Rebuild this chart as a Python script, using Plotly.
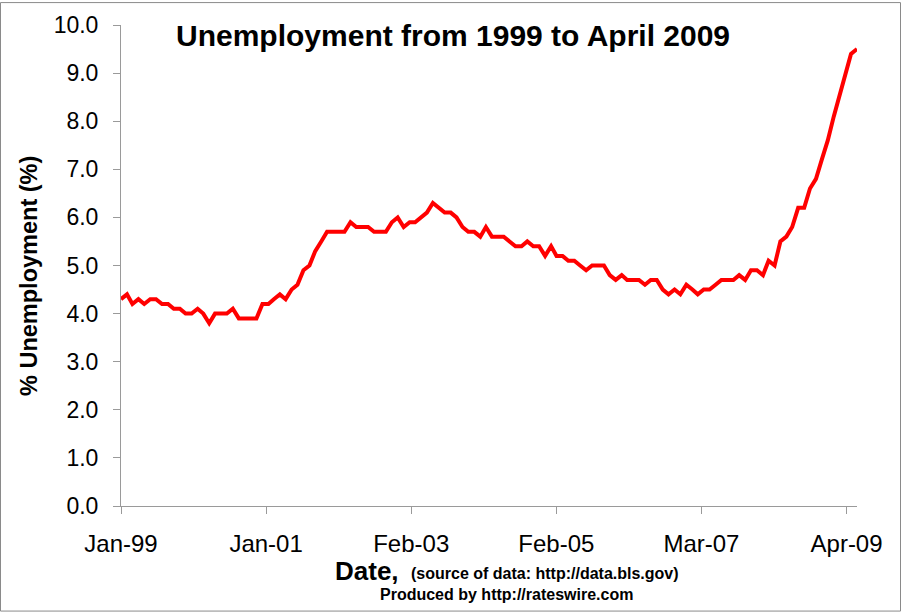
import plotly.graph_objects as go
import pandas as pd

# Monthly unemployment rate (%), Jan 1999 - Jun 2009
start_month = "1999-01-01"
rate_1999 = [4.3, 4.4, 4.2, 4.3, 4.2, 4.3, 4.3, 4.2, 4.2, 4.1, 4.1, 4.0]
rate_2000 = [4.0, 4.1, 4.0, 3.8, 4.0, 4.0, 4.0, 4.1, 3.9, 3.9, 3.9, 3.9]
rate_2001 = [4.2, 4.2, 4.3, 4.4, 4.3, 4.5, 4.6, 4.9, 5.0, 5.3, 5.5, 5.7]
rate_2002 = [5.7, 5.7, 5.7, 5.9, 5.8, 5.8, 5.8, 5.7, 5.7, 5.7, 5.9, 6.0]
rate_2003 = [5.8, 5.9, 5.9, 6.0, 6.1, 6.3, 6.2, 6.1, 6.1, 6.0, 5.8, 5.7]
rate_2004 = [5.7, 5.6, 5.8, 5.6, 5.6, 5.6, 5.5, 5.4, 5.4, 5.5, 5.4, 5.4]
rate_2005 = [5.2, 5.4, 5.2, 5.2, 5.1, 5.1, 5.0, 4.9, 5.0, 5.0, 5.0, 4.8]
rate_2006 = [4.7, 4.8, 4.7, 4.7, 4.7, 4.6, 4.7, 4.7, 4.5, 4.4, 4.5, 4.4]
rate_2007 = [4.6, 4.5, 4.4, 4.5, 4.5, 4.6, 4.7, 4.7, 4.7, 4.8, 4.7, 4.9]
rate_2008 = [4.9, 4.8, 5.1, 5.0, 5.5, 5.6, 5.8, 6.2, 6.2, 6.6, 6.8, 7.2]
rate_2009 = [7.6, 8.1, 8.5, 8.9, 9.4, 9.5]

rates = (rate_1999 + rate_2000 + rate_2001 + rate_2002 + rate_2003 + rate_2004
         + rate_2005 + rate_2006 + rate_2007 + rate_2008 + rate_2009)
months = pd.date_range(start_month, periods=len(rates), freq="MS")

# Excel-style date axis: major unit of 750 days
tick_labels = ["Jan-99", "Jan-01", "Feb-03", "Feb-05", "Mar-07", "Apr-09"]
tick_step_days = 750
tick_dates = [pd.Timestamp(start_month) + pd.Timedelta(days=tick_step_days * i)
              for i in range(len(tick_labels))]

y_ticks = [0, 1, 2, 3, 4, 5, 6, 7, 8, 9, 10]

FONT = "Liberation Sans, Arial, Helvetica, sans-serif"
AXIS_GRAY = "#9a9a9a"

W, H = 901, 613
L, R, T, B = 121, 44, 23, 107
PW, PH = W - L - R, H - T - B


def px(xp):
    return (xp - L) / PW


def py(yp):
    return (H - B - yp) / PH


fig = go.Figure()
fig.add_trace(go.Scatter(
    x=months, y=rates, mode="lines",
    line=dict(color="#ff0000", width=4),
    hoverinfo="x+y", showlegend=False,
))

fig.update_layout(
    width=W, height=H,
    margin=dict(l=L, r=R, t=T, b=B, pad=0),
    paper_bgcolor="white", plot_bgcolor="white",
    font=dict(family=FONT, color="black"),
    showlegend=False,
    xaxis=dict(
        type="date",
        range=[months[0], months[-1]],
        tickmode="array", tickvals=tick_dates, ticktext=tick_labels,
        ticks="outside", ticklen=7, tickwidth=1, tickcolor=AXIS_GRAY,
        showline=True, linecolor=AXIS_GRAY, linewidth=1,
        showgrid=False, zeroline=False,
        tickfont=dict(size=24, family=FONT, color="black"),
        ticklabelstandoff=9,
    ),
    yaxis=dict(
        range=[0, 10],
        tickmode="array", tickvals=y_ticks,
        ticktext=[f"{v:.1f}" for v in y_ticks],
        ticks="outside", ticklen=7, tickwidth=1, tickcolor=AXIS_GRAY,
        showline=True, linecolor=AXIS_GRAY, linewidth=1,
        showgrid=False, zeroline=False,
        tickfont=dict(size=23, family=FONT, color="black"),
        ticklabelstandoff=10,
    ),
)

annotations = [
    dict(text="<b>Unemployment from 1999 to April 2009</b>",
         x=px(453), y=py(34), xanchor="center", yanchor="middle",
         font=dict(size=30, family=FONT, color="black")),
    dict(text="<b>% Unemployment (%)</b>", textangle=-90,
         x=px(29), y=py(275), xanchor="center", yanchor="middle",
         font=dict(size=23.5, family=FONT, color="black")),
    dict(text="<b>Date,</b>",
         x=px(333), y=py(571), xanchor="left", yanchor="middle",
         font=dict(size=26, family=FONT, color="black")),
    dict(text="<b>(source of data: http://data.bls.gov)</b>",
         x=px(409), y=py(574), xanchor="left", yanchor="middle",
         font=dict(size=16, family=FONT, color="black")),
    dict(text="<b>Produced by http://rateswire.com</b>",
         x=px(506), y=py(595), xanchor="center", yanchor="middle",
         font=dict(size=16, family=FONT, color="black")),
]
for a in annotations:
    a.update(xref="paper", yref="paper", showarrow=False)
fig.update_layout(annotations=annotations)

# outer frame of the picture
fig.add_shape(type="rect", xref="paper", yref="paper",
              x0=px(0.5), x1=px(900.5), y0=py(611.5), y1=py(0.5),
              line=dict(color="#8a8a8a", width=1), fillcolor="rgba(0,0,0,0)",
              layer="above")

fig.write_html("out.html")
